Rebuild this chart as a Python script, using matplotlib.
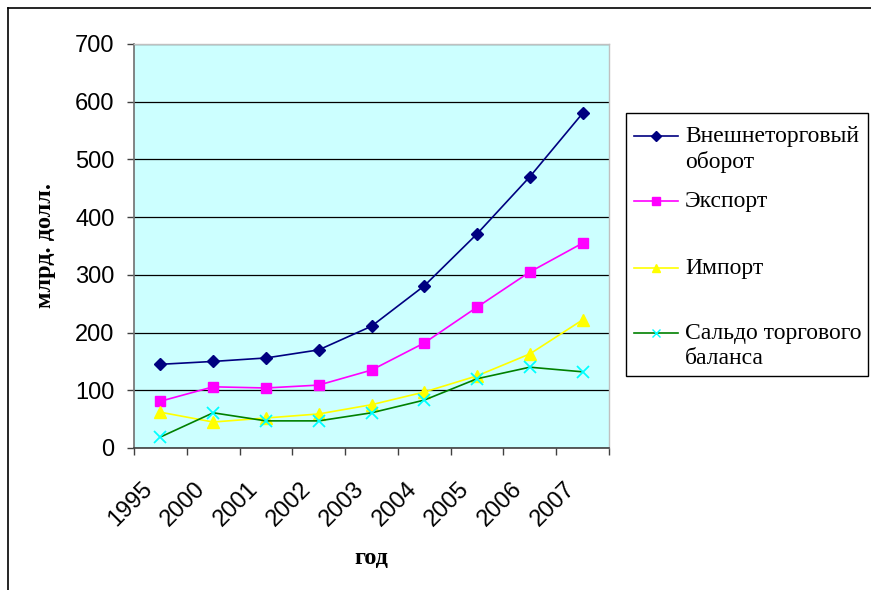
import matplotlib
matplotlib.use("Agg")
import matplotlib.pyplot as plt
from matplotlib.lines import Line2D
from matplotlib.patches import Rectangle
import matplotlib.transforms as mtransforms

# Data (billion USD)
years = ["1995", "2000", "2001", "2002", "2003", "2004", "2005", "2006", "2007"]
turnover = [145, 150, 156, 170, 211, 281, 371, 470, 580]
export = [81, 106, 104, 109, 135, 182, 244, 305, 355]
imports = [62, 45, 52, 59, 75, 97, 125, 163, 222]
balance = [19, 61, 47, 47, 61, 83, 120, 140, 132]

labels = ["Внешнеторговый\nоборот", "Экспорт", "Импорт", "Сальдо торгового\nбаланса"]
series = [turnover, export, imports, balance]
# (line colour, marker, marker colour, marker size)
styles = [("#000080", "D", "#000080", 6.5),
          ("#FF00FF", "s", "#FF00FF", 7),
          ("#FFFF00", "^", "#FFFF00", 8),
          ("#008000", "x", "#00FFFF", 8)]

W, H = 871, 590
fig = plt.figure(figsize=(W / 100, H / 100), dpi=100)

def fx(px):
    return px / W

def fy(py):
    return 1 - py / H

# outer chart frame (top and left edges visible)
fig.add_artist(Line2D([fx(8), 1], [fy(8), fy(8)], color="black", lw=1.2))
fig.add_artist(Line2D([fx(8), fx(8)], [fy(8), 0], color="black", lw=1.2))

ax = fig.add_axes([fx(134), fy(448), fx(609) - fx(134), fy(44) - fy(448)])
ax.set_facecolor("#CCFFFF")

x = list(range(len(years)))
for vals, (lc, mk, mc, ms) in zip(series, styles):
    ax.plot(x, vals, color=lc, lw=1.2, marker=mk, markersize=ms,
            markerfacecolor=mc, markeredgecolor=mc, markeredgewidth=1.3 if mk == "x" else 1,
            clip_on=False, zorder=3)

ax.set_ylim(0, 700)
ax.set_yticks(range(0, 701, 100))
ax.set_xlim(-0.5, len(years) - 0.5)
ax.yaxis.grid(True, color="black", lw=0.9)
ax.set_axisbelow(True)

for s in ["top", "right"]:
    ax.spines[s].set_color("#C0C0C0")
    ax.spines[s].set_linewidth(1.0)
ax.spines["left"].set_color("#707070")
ax.spines["bottom"].set_color("#404040")
ax.spines["left"].set_linewidth(1.2)
ax.spines["bottom"].set_linewidth(1.2)

ax.tick_params(axis="y", length=5, width=1, color="#404040", pad=9, labelsize=17)
for t in ax.get_yticklabels():
    t.set_fontfamily("Liberation Sans")

ax.set_xticks(x)
ax.set_xticklabels(years, rotation=45, ha="right", va="center",
                   rotation_mode="anchor", fontfamily="Liberation Sans", fontsize=17)
ax.set_xticks([i - 0.5 for i in range(len(years) + 1)], minor=True)
ax.tick_params(axis="x", which="major", length=0, pad=27)
ax.tick_params(axis="x", which="minor", length=5, width=1, color="#404040")
shift = mtransforms.ScaledTranslation(-11 / 100, 0, fig.dpi_scale_trans)
for t in ax.get_xticklabels():
    t.set_transform(t.get_transform() + shift)

fig.text(fx(45), fy(245), "млрд. долл.", rotation=90, ha="center", va="center",
         fontfamily="Liberation Serif", fontweight="bold", fontsize=17.5)
fig.text(fx(371.5), fy(558), "год", ha="center", va="center",
         fontfamily="Liberation Serif", fontweight="bold", fontsize=17.5)

# legend box drawn by hand to follow the original spacing
fig.add_artist(Rectangle((fx(626), fy(376)), fx(868) - fx(626), fy(113) - fy(376),
                         transform=fig.transFigure, facecolor="white",
                         edgecolor="black", lw=1.0))
entry_y = [136, 201, 268, 333]
for (lc, mk, mc, ms), lab, yy in zip(styles, labels, entry_y):
    fig.add_artist(Line2D([fx(634), fx(678)], [fy(yy), fy(yy)], color=lc, lw=1.2))
    fig.add_artist(Line2D([fx(656)], [fy(yy)], marker=mk, markersize=ms * 0.8,
                          markerfacecolor=mc, markeredgecolor=mc, lw=0))
    fig.text(fx(685), fy(yy - 10), lab, ha="left", va="top", fontsize=17,
             fontfamily="Liberation Serif", linespacing=1.25)

fig.savefig("out.png", dpi=100)
